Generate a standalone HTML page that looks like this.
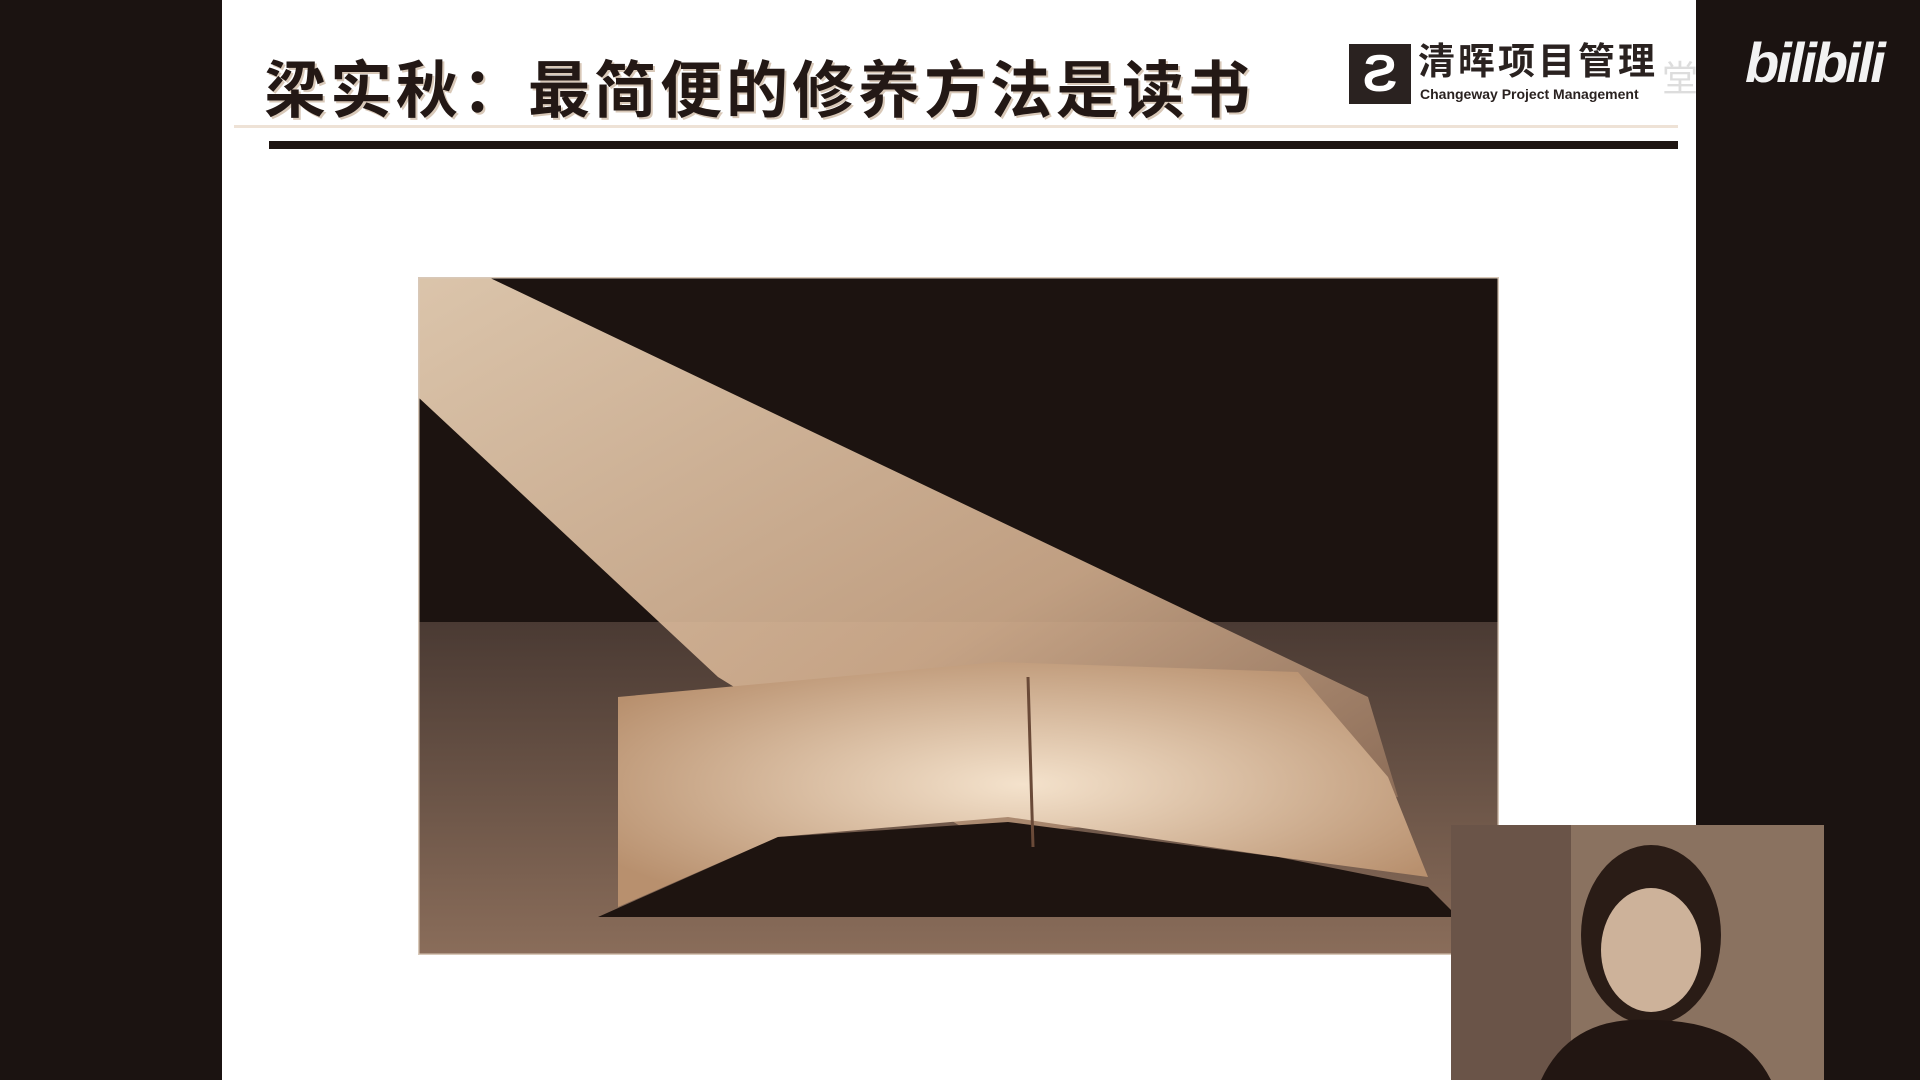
<!DOCTYPE html>
<html><head><meta charset="utf-8"><style>
html,body{margin:0;padding:0;width:1920px;height:1080px;overflow:hidden;background:#1b1311;}
.slide{position:absolute;left:222px;top:0;width:1474px;height:1080px;background:#fff;}
.title{position:absolute;left:264px;top:40px;font:bold 62px "Liberation Sans","Noto Sans CJK SC",sans-serif;color:#231815;letter-spacing:4px;white-space:nowrap;text-shadow:2px 2px 0 #d8c8b8;}
.rule{position:absolute;left:269px;top:141px;width:1409px;height:8px;background:#1e1512;}
.rule2{position:absolute;left:234px;top:125px;width:1444px;height:3px;background:#eee2d6;}
.logo{position:absolute;left:1349px;top:44px;width:62px;height:60px;background:#2a2220;color:#fff;font:bold 52px "Liberation Sans",sans-serif;text-align:center;line-height:60px;}
.logot{position:absolute;left:1418px;top:40px;font:bold 37px "Liberation Sans","Noto Sans CJK SC",sans-serif;color:#2a2220;letter-spacing:3px;white-space:nowrap;line-height:44px;}
.logos{position:absolute;left:1420px;top:86px;font:bold 14px "Liberation Sans",sans-serif;color:#2a2220;white-space:nowrap;}
.tang{position:absolute;left:1662px;top:50px;font:36px "Noto Sans CJK SC",sans-serif;color:#ddd;}
.bili{position:absolute;left:1745px;top:30px;font:bold italic 56px "Liberation Sans",sans-serif;color:#f2f2f2;letter-spacing:-3px;}
.photo{position:absolute;left:418px;top:277px;width:1081px;height:678px;}
.cam{position:absolute;left:1451px;top:825px;width:373px;height:255px;}
</style></head><body>
<div class="slide"></div>
<div class="title">梁实秋：最简便的修养方法是读书</div>
<div class="rule2"></div>
<div class="rule"></div>
<div class="logo">Ƨ</div>
<div class="logot">清晖项目管理</div>
<div class="logos">Changeway Project Management</div>
<div class="tang">堂</div>
<div class="bili">bilibili</div>
<svg class="photo" viewBox="0 0 1081 678">
<defs>
<linearGradient id="tbl" x1="0" y1="0" x2="0" y2="1"><stop offset="0" stop-color="#4a3a33"/><stop offset="1" stop-color="#8a6d5a"/></linearGradient>
<linearGradient id="beam" x1="0" y1="0" x2="1" y2="1"><stop offset="0" stop-color="#f0d8bc"/><stop offset="0.6" stop-color="#d2ae8e"/><stop offset="1" stop-color="#8a6a55"/></linearGradient>
<radialGradient id="pg" cx="0.5" cy="0.5" r="0.6"><stop offset="0" stop-color="#f4e2cc"/><stop offset="1" stop-color="#b8906e"/></radialGradient>
</defs>
<rect width="1081" height="678" fill="#1c1310"/>
<rect y="345" width="1081" height="333" fill="url(#tbl)"/>
<polygon points="0,0 70,0 950,420 980,520 560,560 300,400 0,120" fill="url(#beam)" opacity="0.9"/>
<polygon points="200,420 580,385 880,395 970,500 1010,600 860,580 590,540 360,560 200,630" fill="url(#pg)"/>
<polygon points="180,640 360,560 590,545 860,580 1010,610 1040,640 600,640" fill="#1e1410"/>
<line x1="610" y1="400" x2="615" y2="570" stroke="#6a4a38" stroke-width="3"/>
<rect x="0" y="0" width="1081" height="678" fill="none" stroke="#d8c8b8" stroke-width="3"/>
</svg>
<svg class="cam" viewBox="0 0 373 255">
<rect width="373" height="255" fill="#8a7260"/>
<rect x="0" y="0" width="120" height="255" fill="#6a5448"/>
<ellipse cx="200" cy="110" rx="70" ry="90" fill="#2a1c16"/>
<ellipse cx="200" cy="125" rx="50" ry="62" fill="#cdb29a"/>
<path d="M90 255 Q120 190 200 195 Q290 195 320 255Z" fill="#221612"/>
</svg>
</body></html>
